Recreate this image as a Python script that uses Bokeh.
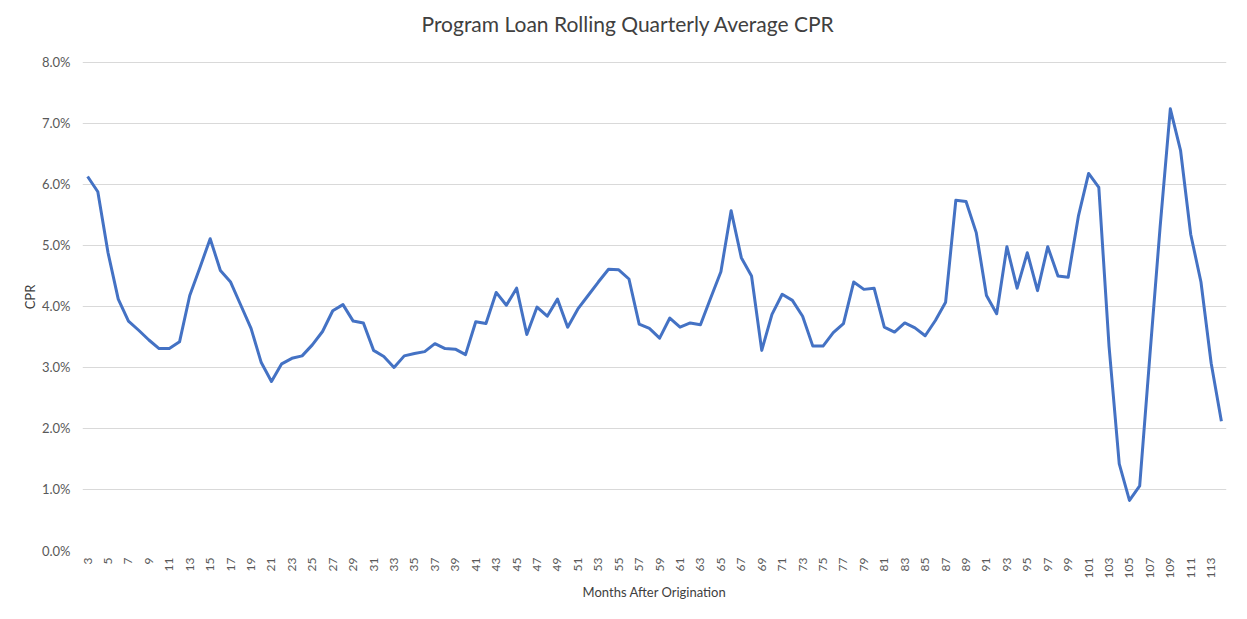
from bokeh.plotting import figure
from bokeh.models import Range1d, FixedTicker, PrintfTickFormatter, ColumnDataSource
from bokeh.embed import file_html
from bokeh.resources import INLINE

title_text = "Program Loan Rolling Quarterly Average CPR"
months = list(range(3, 115))
cpr = [
    6.13, 5.88, 4.88, 4.12, 3.76, 3.61, 3.45, 3.31, 3.31, 3.42,   # 3-12
    4.18, 4.64, 5.11, 4.59, 4.40, 4.02, 3.64, 3.08, 2.77, 3.06,   # 13-22
    3.15, 3.19, 3.37, 3.59, 3.93, 4.03, 3.76, 3.73, 3.28, 3.18,   # 23-32
    3.00, 3.19, 3.23, 3.26, 3.39, 3.31, 3.30, 3.21, 3.75, 3.72,   # 33-42
    4.23, 4.02, 4.30, 3.54, 3.99, 3.84, 4.12, 3.66, 3.96, 4.18,   # 43-52
    4.40, 4.61, 4.60, 4.45, 3.71, 3.64, 3.48, 3.81, 3.66, 3.73,   # 53-62
    3.70, 4.14, 4.57, 5.57, 4.80, 4.50, 3.28, 3.87, 4.20, 4.10,   # 63-72
    3.84, 3.35, 3.35, 3.57, 3.72, 4.40, 4.28, 4.30, 3.66, 3.58,   # 73-82
    3.73, 3.65, 3.52, 3.77, 4.07, 5.74, 5.72, 5.21, 4.18, 3.88,   # 83-92
    4.98, 4.30, 4.88, 4.26, 4.98, 4.50, 4.48, 5.48, 6.18, 5.95,   # 93-102
    3.35, 1.42, 0.82, 1.06, 3.20, 5.30, 7.24, 6.56, 5.18, 4.40,   # 103-112
    3.07, 2.12,                                                   # 113-114
]
tick_months = list(range(3, 114, 2))
y_ticks = [0, 1, 2, 3, 4, 5, 6, 7, 8]

src = ColumnDataSource(data=dict(month=months, cpr=cpr))

# y range runs a little above 8% so that the title can sit high above the top gridline
p = figure(width=1231, height=603, output_backend="svg", toolbar_location=None,
           x_range=Range1d(2.5, 114.5), y_range=Range1d(0, 8.31),
           title=title_text)
p.min_border_left = 82
p.min_border_right = 5
p.min_border_top = 43
p.min_border_bottom = 51
p.background_fill_color = "white"
p.border_fill_color = "white"
p.outline_line_color = None

p.title.align = "left"
p.title.offset = 339
p.title.standoff = 15
p.title.text_font = "Lato"
p.title.text_font_size = "21px"
p.title.text_font_style = "normal"
p.title.text_color = "#404040"

p.line("month", "cpr", source=src, line_color="#4472C4", line_width=3,
       line_join="round")

p.xaxis.ticker = FixedTicker(ticks=tick_months)
p.xaxis.major_label_orientation = 1.5708
p.xaxis.axis_label = "Months After Origination"
p.yaxis.axis_label = "CPR"
p.yaxis.ticker = FixedTicker(ticks=y_ticks)
p.yaxis.formatter = PrintfTickFormatter(format="%.1f%%")

for ax in (p.xaxis[0], p.yaxis[0]):
    ax.axis_line_color = None
    ax.major_tick_line_color = None
    ax.minor_tick_line_color = None
    ax.major_tick_out = 0
    ax.major_tick_in = 0
    ax.major_label_text_font = "Lato"
    ax.major_label_text_color = "#595959"
    ax.axis_label_text_font = "Lato"
    ax.axis_label_text_font_size = "13px"
    ax.axis_label_text_font_style = "normal"
    ax.axis_label_text_color = "#404040"
p.xaxis.major_label_text_font_size = "12px"
p.yaxis.major_label_text_font_size = "13px"
p.xaxis.major_label_standoff = 7
p.yaxis.major_label_standoff = 12
p.xaxis.axis_label_standoff = 3
p.yaxis.axis_label_standoff = 1

p.xgrid.grid_line_color = None
p.ygrid.grid_line_color = "#d9d9d9"
p.ygrid.grid_line_width = 1

open("out.html", "w").write(file_html(p, INLINE))
